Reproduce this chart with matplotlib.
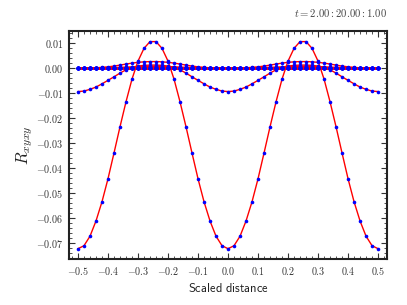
import numpy as np
import matplotlib
matplotlib.use("Agg")
import matplotlib.pyplot as plt
from matplotlib.ticker import AutoMinorLocator, FuncFormatter, MultipleLocator

plt.rcParams['mathtext.fontset'] = 'cm'

# Scaled distance grid (51 samples from -0.5 to 0.5)
distance = np.linspace(-0.5, 0.5, 51)

# R_xyxy curves, one per time step (t = 2 ... 20)
R_t2 = [-0.0722, -0.0710, -0.0672, -0.0611, -0.0534, -0.0442, -0.0339, -0.0234, -0.0134, -0.0043, 0.0029, 0.0080, 0.0107,
        0.0107, 0.0080, 0.0029, -0.0043, -0.0134, -0.0234, -0.0339, -0.0442, -0.0534, -0.0611, -0.0672, -0.0710, -0.0722,
        -0.0710, -0.0672, -0.0611, -0.0534, -0.0442, -0.0339, -0.0234, -0.0134, -0.0043, 0.0029, 0.0080, 0.0107,
        0.0107, 0.0080, 0.0029, -0.0043, -0.0134, -0.0234, -0.0339, -0.0442, -0.0534, -0.0611, -0.0672, -0.0710, -0.0722]
R_t3 = [-0.0093, -0.0091, -0.0084, -0.0075, -0.0062, -0.0048, -0.0034, -0.0019, -0.0006, 0.0004, 0.0009, 0.0012, 0.0013,
        0.0013, 0.0012, 0.0009, 0.0004, -0.0006, -0.0019, -0.0034, -0.0048, -0.0062, -0.0075, -0.0084, -0.0091, -0.0093,
        -0.0091, -0.0084, -0.0075, -0.0062, -0.0048, -0.0034, -0.0019, -0.0006, 0.0004, 0.0009, 0.0012, 0.0013,
        0.0013, 0.0012, 0.0009, 0.0004, -0.0006, -0.0019, -0.0034, -0.0048, -0.0062, -0.0075, -0.0084, -0.0091, -0.0093]
R_t4 = [0.0000, 0.0000, 0.0001, 0.0002, 0.0004, 0.0006, 0.0009, 0.0013, 0.0017, 0.0021, 0.0024, 0.0026, 0.0027,
        0.0027, 0.0026, 0.0024, 0.0021, 0.0017, 0.0013, 0.0009, 0.0006, 0.0004, 0.0002, 0.0001, 0.0000, 0.0000,
        0.0000, 0.0001, 0.0002, 0.0004, 0.0006, 0.0009, 0.0013, 0.0017, 0.0021, 0.0024, 0.0026, 0.0027,
        0.0027, 0.0026, 0.0024, 0.0021, 0.0017, 0.0013, 0.0009, 0.0006, 0.0004, 0.0002, 0.0001, 0.0000, 0.0000]
R_t5 = [0.0000, 0.0000, 0.0000, 0.0001, 0.0001, 0.0002, 0.0003, 0.0004, 0.0005, 0.0006, 0.0007, 0.0008, 0.0008,
        0.0008, 0.0008, 0.0007, 0.0006, 0.0005, 0.0004, 0.0003, 0.0002, 0.0001, 0.0001, 0.0000, 0.0000, 0.0000,
        0.0000, 0.0000, 0.0001, 0.0001, 0.0002, 0.0003, 0.0004, 0.0005, 0.0006, 0.0007, 0.0008, 0.0008,
        0.0008, 0.0008, 0.0007, 0.0006, 0.0005, 0.0004, 0.0003, 0.0002, 0.0001, 0.0001, 0.0000, 0.0000, 0.0000]
R_t6 = [0.0000, 0.0000, 0.0000, 0.0000, 0.0000, 0.0001, 0.0001, 0.0001, 0.0002, 0.0002, 0.0003, 0.0003, 0.0003,
        0.0003, 0.0003, 0.0003, 0.0002, 0.0002, 0.0001, 0.0001, 0.0001, 0.0000, 0.0000, 0.0000, 0.0000, 0.0000,
        0.0000, 0.0000, 0.0000, 0.0000, 0.0001, 0.0001, 0.0001, 0.0002, 0.0002, 0.0003, 0.0003, 0.0003,
        0.0003, 0.0003, 0.0003, 0.0002, 0.0002, 0.0001, 0.0001, 0.0001, 0.0000, 0.0000, 0.0000, 0.0000, 0.0000]
R_t7_to_t20 = [0.0000, 0.0000, 0.0000, 0.0000, 0.0000, 0.0000, 0.0000, 0.0000, 0.0000, 0.0000, 0.0000, 0.0000, 0.0000,
               0.0000, 0.0000, 0.0000, 0.0000, 0.0000, 0.0000, 0.0000, 0.0000, 0.0000, 0.0000, 0.0000, 0.0000, 0.0000,
               0.0000, 0.0000, 0.0000, 0.0000, 0.0000, 0.0000, 0.0000, 0.0000, 0.0000, 0.0000, 0.0000, 0.0000,
               0.0000, 0.0000, 0.0000, 0.0000, 0.0000, 0.0000, 0.0000, 0.0000, 0.0000, 0.0000, 0.0000, 0.0000, 0.0000]

times = list(range(2, 21))
curves = [R_t2, R_t3, R_t4, R_t5, R_t6] + [R_t7_to_t20] * 14

fig = plt.figure(figsize=(4.07, 3.05), dpi=100)
ax = fig.add_axes([0.1695, 0.151, 0.7815, 0.747])

for t, vals in zip(times, curves):
    ax.plot(distance, vals, color='red', lw=1.0, zorder=2)
    ax.plot(distance, vals, ls='none', marker='o', ms=2.6, mfc='blue', mec='blue', mew=0, zorder=3)

ax.set_xlim(-0.53, 0.53)
ax.set_ylim(-0.0763, 0.0149)

ax.xaxis.set_major_locator(MultipleLocator(0.1))
ax.yaxis.set_major_locator(MultipleLocator(0.01))
ax.xaxis.set_minor_locator(AutoMinorLocator(5))
ax.yaxis.set_minor_locator(AutoMinorLocator(5))
ax.xaxis.set_major_formatter(FuncFormatter(lambda v, p: r'$%.1f$' % (0.0 if abs(v) < 1e-9 else v)))
ax.yaxis.set_major_formatter(FuncFormatter(lambda v, p: r'$%.2f$' % (0.0 if abs(v) < 1e-9 else v)))

ax.tick_params(which='both', direction='in', top=True, right=True, labelsize=7.2,
               color='#333333', labelcolor='#333333')
ax.tick_params(which='major', length=4, width=0.8, pad=4)
ax.tick_params(which='minor', length=2, width=0.6)
for sp in ax.spines.values():
    sp.set_linewidth(1.5)
    sp.set_color('#222222')

ax.set_xlabel(r'$\mathsf{Scaled\ distance}$', fontsize=9, labelpad=4, color='#222222')
ax.set_ylabel(r'$R_{xyxy}$', fontsize=12, labelpad=1, color='#222222')
ax.set_title(r'$t = 2.00 : 20.00 : 1.00$', loc='right', fontsize=7.7, pad=10, color='#444444')

fig.savefig('out.png', dpi=100)
